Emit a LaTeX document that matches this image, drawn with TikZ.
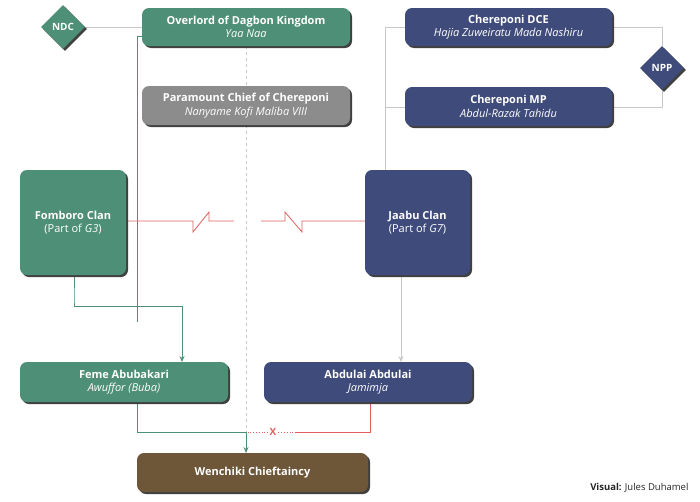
\documentclass[tikz,border=0pt]{standalone}
\usepackage{fontspec}
\setmainfont{Open Sans}
\usetikzlibrary{shapes.geometric,arrows.meta,calc}
\definecolor{grn}{HTML}{4E8F77}
\definecolor{nvy}{HTML}{3F4B7A}
\definecolor{gry}{HTML}{8C8C8C}
\definecolor{brn}{HTML}{6E5638}
\definecolor{lgr}{HTML}{C8C8C8}
\definecolor{rd}{HTML}{E06060}
\begin{document}
\begin{tikzpicture}[x=1pt,y=-1pt,
  box/.style={draw=none,rounded corners=7pt,text=white,align=center,font=\fontsize{11}{13.5}\selectfont,
    inner sep=0pt,drop shadow/.style={}},
  dia/.style={diamond,text=white,font=\bfseries\fontsize{10}{12}\selectfont,inner sep=1pt,minimum size=44pt},
  gl/.style={draw=grn,line width=0.8pt},
  al/.style={draw=lgr,line width=0.8pt},
  rl/.style={draw=rd,line width=0.8pt},
  tip/.style={-{Stealth[length=6pt,width=5pt]}}]
\useasboundingbox (0,0) rectangle (700,501);
\newcommand{\bx}[6]{%
  \fill[black!75,rounded corners=7pt] ($(#1,#2)+(2,2)$) rectangle ($(#3,#4)+(2,2)$);
  \fill[#5,rounded corners=7pt] (#1,#2) rectangle (#3,#4);
  \node[box] (#6) at ($(#1,#2)!0.5!(#3,#4)$) {};}
% lines behind
\draw[lgr,dashed,line width=0.8pt] (246,46) -- (246,85);
\draw[lgr,dashed,line width=0.8pt] (246,125) -- (246,453);
\coordinate (nd) at (63,27);
\draw[al] (85,27) -- (142,27);
\draw[gl] (142,36) -- (137,36) -- (137,322);
\draw[gl] (74,275) -- (74,300) |- (137,306);
\draw[gl,tip] (137,306) -- (182,306) -- (182,362);
\draw[al] (405,27) -- (385,27) -- (385,170);
\draw[al] (385,107) -- (405,107);
\draw[al] (612,27) -- (662,27) -- (662,46);
\draw[al] (662,90) -- (662,107) -- (612,107);
\draw[al,tip] (401,275) -- (401,362);
\draw[rl] (126,221) -- (193,221) -- (193,232) -- (209,212) -- (209,221) -- (234,221);
\draw[rl] (261,221) -- (285,221) -- (285,212) -- (302,232) -- (302,221) -- (365,221);
\draw[gl,tip] (137,402) -- (137,432) -- (246,432) -- (246,453);
\draw[rl] (370,402) -- (370,432) -- (296,432);
\draw[rl,dotted] (296,432) -- (248,432);
\node[text=rd,font=\bfseries\fontsize{10}{12}\selectfont,fill=white,inner sep=1pt] (x) at (273,432) {X};
% boxes
\bx{142}{8}{350}{46}{grn}{ov}
\node[box] at (ov) {\textbf{Overlord of Dagbon Kingdom}\\\textit{Yaa Naa}};
\bx{142}{86}{350}{125}{gry}{pc}
\node[box] at (pc) {\textbf{Paramount Chief of Chereponi}\\\textit{Nanyame Kofi Maliba VIII}};
\bx{405}{8}{612}{46}{nvy}{dce}
\node[box] at (dce) {\textbf{Chereponi DCE}\\\textit{Hajia Zuweiratu Mada Nashiru}};
\bx{405}{87}{612}{126}{nvy}{mp}
\node[box] at (mp) {\textbf{Chereponi MP}\\\textit{Abdul-Razak Tahidu}};
\bx{20}{170}{126}{275}{grn}{fc}
\node[box] at (fc) {\textbf{Fomboro Clan}\\(Part of \textit{G3})};
\bx{365}{170}{470}{275}{nvy}{jc}
\node[box] at (jc) {\textbf{Jaabu Clan}\\(Part of \textit{G7})};
\bx{20}{362}{228}{402}{grn}{fa}
\node[box] at (fa) {\textbf{Feme Abubakari}\\\textit{Awuffor (Buba)}};
\bx{264}{362}{472}{402}{nvy}{aa}
\node[box] at (aa) {\textbf{Abdulai Abdulai}\\\textit{Jamimja}};
\bx{137}{453}{368}{492}{brn}{wc}
\node[box] at (wc) {\textbf{Wenchiki Chieftaincy}};
% diamonds
\node[dia,fill=black!75] at (65,29) {};
\node[dia,fill=grn] (ndc) at (63,27) {NDC};
\node[dia,fill=black!75] at (664,70) {};
\node[dia,fill=nvy] (npp) at (662,68) {NPP};
\node[anchor=east,font=\fontsize{9.5}{11}\selectfont,text=black!85] (vis) at (692,488) {\textbf{Visual:} Jules Duhamel};
\end{tikzpicture}
\end{document}
